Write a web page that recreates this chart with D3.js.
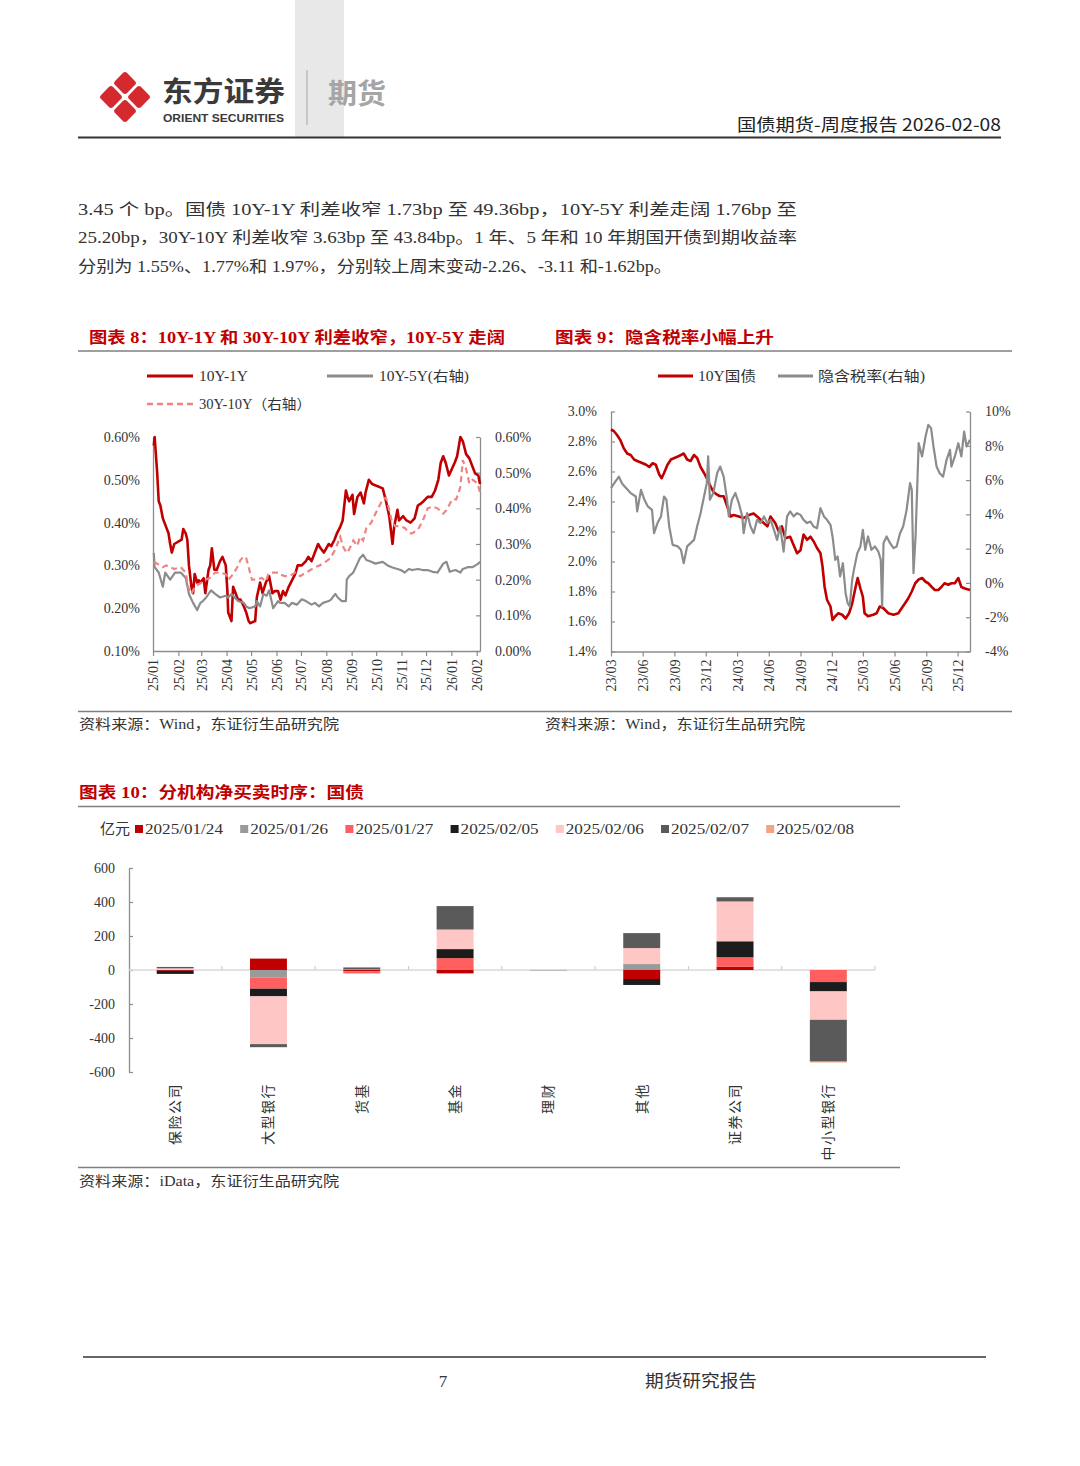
<!DOCTYPE html>
<html><head><meta charset="utf-8">
<script src="https://cdn.jsdelivr.net/npm/d3@7"></script>
<style>body{margin:0;background:#fff}svg{display:block}</style>
</head><body><svg id="page" width="1080" height="1466"></svg>
<script>
// ---------------- DATA ----------------
// Chart 8 (values in %)
const spread10y1y = [["2025-01-02",0.58],["2025-01-03",0.60],["2025-01-06",0.52],["2025-01-08",0.45],["2025-01-10",0.44],["2025-01-13",0.41],["2025-01-15",0.40],["2025-01-17",0.39],["2025-01-20",0.375],["2025-01-22",0.35],["2025-01-24",0.33],["2025-01-27",0.35],["2025-02-05",0.36],["2025-02-07",0.385],["2025-02-10",0.375],["2025-02-12",0.36],["2025-02-14",0.30],["2025-02-17",0.25],["2025-02-19",0.235],["2025-02-21",0.28],["2025-02-24",0.26],["2025-02-26",0.265],["2025-02-28",0.26],["2025-03-04",0.27],["2025-03-06",0.235],["2025-03-10",0.29],["2025-03-12",0.30],["2025-03-14",0.34],["2025-03-17",0.29],["2025-03-20",0.29],["2025-03-24",0.31],["2025-03-27",0.32],["2025-03-31",0.30],["2025-04-02",0.24],["2025-04-03",0.19],["2025-04-07",0.17],["2025-04-09",0.25],["2025-04-11",0.24],["2025-04-15",0.22],["2025-04-18",0.22],["2025-04-22",0.205],["2025-04-25",0.19],["2025-04-28",0.17],["2025-04-30",0.165],["2025-05-06",0.17],["2025-05-08",0.225],["2025-05-12",0.26],["2025-05-15",0.235],["2025-05-19",0.26],["2025-05-23",0.275],["2025-05-27",0.235],["2025-05-30",0.24],["2025-06-03",0.24],["2025-06-06",0.22],["2025-06-09",0.24],["2025-06-12",0.23],["2025-06-16",0.25],["2025-06-20",0.265],["2025-06-24",0.28],["2025-06-27",0.30],["2025-07-02",0.30],["2025-07-07",0.31],["2025-07-10",0.32],["2025-07-14",0.31],["2025-07-18",0.33],["2025-07-22",0.35],["2025-07-25",0.34],["2025-07-29",0.33],["2025-08-04",0.35],["2025-08-07",0.345],["2025-08-11",0.36],["2025-08-14",0.375],["2025-08-18",0.39],["2025-08-21",0.405],["2025-08-25",0.475],["2025-08-27",0.46],["2025-08-29",0.45],["2025-09-02",0.465],["2025-09-04",0.42],["2025-09-08",0.46],["2025-09-12",0.47],["2025-09-16",0.445],["2025-09-18",0.47],["2025-09-22",0.50],["2025-09-26",0.49],["2025-10-09",0.48],["2025-10-13",0.45],["2025-10-17",0.415],["2025-10-21",0.35],["2025-10-23",0.39],["2025-10-27",0.43],["2025-10-29",0.405],["2025-11-03",0.415],["2025-11-07",0.405],["2025-11-12",0.40],["2025-11-17",0.41],["2025-11-21",0.44],["2025-11-25",0.445],["2025-11-28",0.45],["2025-12-03",0.46],["2025-12-08",0.46],["2025-12-12",0.475],["2025-12-16",0.50],["2025-12-19",0.54],["2025-12-22",0.555],["2025-12-25",0.54],["2025-12-29",0.51],["2026-01-05",0.54],["2026-01-08",0.555],["2026-01-12",0.60],["2026-01-15",0.59],["2026-01-19",0.56],["2026-01-23",0.55],["2026-01-27",0.53],["2026-01-30",0.515],["2026-02-03",0.51],["2026-02-05",0.49]];
const spread10y5y = [["2025-01-02",0.275],["2025-01-03",0.235],["2025-01-08",0.22],["2025-01-13",0.18],["2025-01-16",0.22],["2025-01-22",0.20],["2025-01-28",0.22],["2025-02-04",0.22],["2025-02-10",0.205],["2025-02-14",0.16],["2025-02-19",0.135],["2025-02-24",0.115],["2025-02-28",0.135],["2025-03-03",0.14],["2025-03-07",0.15],["2025-03-13",0.17],["2025-03-18",0.16],["2025-03-24",0.15],["2025-03-31",0.155],["2025-04-03",0.15],["2025-04-07",0.16],["2025-04-11",0.15],["2025-04-15",0.14],["2025-04-22",0.135],["2025-04-25",0.125],["2025-04-29",0.12],["2025-05-06",0.125],["2025-05-08",0.14],["2025-05-12",0.125],["2025-05-16",0.16],["2025-05-20",0.155],["2025-05-23",0.17],["2025-05-28",0.12],["2025-06-03",0.14],["2025-06-05",0.135],["2025-06-11",0.135],["2025-06-16",0.125],["2025-06-20",0.135],["2025-06-26",0.13],["2025-07-02",0.145],["2025-07-07",0.14],["2025-07-14",0.13],["2025-07-18",0.135],["2025-07-23",0.125],["2025-07-28",0.135],["2025-08-04",0.14],["2025-08-07",0.145],["2025-08-12",0.16],["2025-08-15",0.15],["2025-08-20",0.14],["2025-08-25",0.14],["2025-08-26",0.20],["2025-08-29",0.21],["2025-09-03",0.22],["2025-09-08",0.245],["2025-09-11",0.26],["2025-09-15",0.27],["2025-09-19",0.255],["2025-09-25",0.25],["2025-09-30",0.245],["2025-10-09",0.25],["2025-10-15",0.24],["2025-10-20",0.235],["2025-10-27",0.23],["2025-10-31",0.227],["2025-11-05",0.22],["2025-11-10",0.23],["2025-11-14",0.227],["2025-11-21",0.23],["2025-11-27",0.227],["2025-12-03",0.227],["2025-12-09",0.222],["2025-12-15",0.22],["2025-12-22",0.245],["2025-12-26",0.25],["2025-12-30",0.222],["2026-01-06",0.227],["2026-01-12",0.22],["2026-01-15",0.23],["2026-01-21",0.235],["2026-01-27",0.235],["2026-02-03",0.245],["2026-02-05",0.25]];
const spread30y10y = [["2025-01-02",0.25],["2025-01-06",0.245],["2025-01-13",0.235],["2025-01-17",0.24],["2025-01-27",0.23],["2025-02-04",0.235],["2025-02-10",0.22],["2025-02-13",0.18],["2025-02-17",0.16],["2025-02-21",0.18],["2025-02-28",0.19],["2025-03-06",0.20],["2025-03-12",0.205],["2025-03-18",0.22],["2025-03-24",0.22],["2025-03-31",0.215],["2025-04-03",0.20],["2025-04-09",0.215],["2025-04-14",0.235],["2025-04-18",0.255],["2025-04-22",0.265],["2025-04-25",0.26],["2025-04-28",0.235],["2025-05-02",0.20],["2025-05-08",0.20],["2025-05-14",0.205],["2025-05-19",0.195],["2025-05-22",0.215],["2025-05-26",0.22],["2025-06-03",0.22],["2025-06-05",0.215],["2025-06-11",0.21],["2025-06-17",0.21],["2025-06-24",0.22],["2025-06-30",0.21],["2025-07-07",0.22],["2025-07-11",0.225],["2025-07-18",0.235],["2025-07-24",0.24],["2025-07-31",0.25],["2025-08-06",0.26],["2025-08-12",0.285],["2025-08-18",0.32],["2025-08-22",0.29],["2025-08-26",0.275],["2025-08-29",0.285],["2025-09-03",0.31],["2025-09-08",0.295],["2025-09-11",0.32],["2025-09-15",0.31],["2025-09-19",0.345],["2025-09-25",0.36],["2025-09-30",0.385],["2025-10-09",0.425],["2025-10-13",0.43],["2025-10-16",0.405],["2025-10-20",0.365],["2025-10-24",0.35],["2025-10-30",0.35],["2025-11-05",0.345],["2025-11-11",0.33],["2025-11-14",0.33],["2025-11-21",0.34],["2025-11-27",0.365],["2025-12-03",0.40],["2025-12-09",0.405],["2025-12-15",0.40],["2025-12-22",0.385],["2025-12-26",0.395],["2026-01-02",0.425],["2026-01-07",0.425],["2026-01-12",0.46],["2026-01-15",0.535],["2026-01-19",0.51],["2026-01-23",0.47],["2026-01-27",0.48],["2026-02-02",0.47],["2026-02-05",0.445]];
const c8LeftTicks = [0.1,0.2,0.3,0.4,0.5,0.6];
const c8RightTicks = [0,0.1,0.2,0.3,0.4,0.5,0.6];

// Chart 9
const cgb10y = [["2023-03-01",2.88],["2023-03-09",2.87],["2023-03-18",2.845],["2023-03-28",2.81],["2023-04-07",2.755],["2023-04-17",2.72],["2023-04-27",2.71],["2023-05-07",2.68],["2023-05-16",2.67],["2023-06-01",2.655],["2023-06-11",2.645],["2023-06-20",2.63],["2023-06-30",2.655],["2023-07-09",2.645],["2023-07-19",2.58],["2023-07-26",2.555],["2023-08-02",2.59],["2023-08-12",2.645],["2023-08-22",2.68],["2023-09-01",2.69],["2023-09-11",2.70],["2023-09-20",2.71],["2023-09-28",2.72],["2023-10-08",2.68],["2023-10-18",2.67],["2023-10-28",2.71],["2023-11-06",2.69],["2023-11-16",2.63],["2023-11-26",2.59],["2023-12-04",2.555],["2023-12-13",2.51],["2023-12-23",2.465],["2024-01-03",2.445],["2024-01-12",2.435],["2024-01-22",2.435],["2024-02-01",2.37],["2024-02-11",2.30],["2024-02-20",2.31],["2024-03-06",2.30],["2024-03-20",2.29],["2024-04-04",2.31],["2024-04-18",2.32],["2024-05-03",2.29],["2024-05-18",2.255],["2024-05-28",2.235],["2024-06-06",2.30],["2024-06-20",2.255],["2024-06-30",2.20],["2024-07-09",2.235],["2024-07-19",2.155],["2024-08-02",2.165],["2024-08-12",2.11],["2024-08-22",2.055],["2024-09-01",2.075],["2024-09-10",2.18],["2024-09-20",2.145],["2024-09-30",2.165],["2024-10-09",2.135],["2024-10-19",2.09],["2024-10-29",2.055],["2024-11-04",1.965],["2024-11-10",1.83],["2024-11-17",1.745],["2024-11-27",1.70],["2024-12-03",1.61],["2024-12-11",1.635],["2024-12-20",1.655],["2024-12-31",1.645],["2025-01-10",1.62],["2025-01-20",1.655],["2025-01-29",1.72],["2025-02-08",1.83],["2025-02-14",1.89],["2025-02-22",1.82],["2025-03-01",1.765],["2025-03-06",1.655],["2025-03-16",1.635],["2025-03-31",1.645],["2025-04-10",1.655],["2025-04-19",1.70],["2025-04-29",1.69],["2025-05-14",1.655],["2025-05-29",1.645],["2025-06-12",1.655],["2025-06-22",1.69],["2025-07-01",1.72],["2025-07-11",1.755],["2025-07-21",1.80],["2025-07-31",1.855],["2025-08-10",1.88],["2025-08-20",1.89],["2025-08-30",1.865],["2025-09-07",1.855],["2025-09-17",1.83],["2025-09-26",1.81],["2025-10-06",1.81],["2025-10-15",1.83],["2025-10-24",1.855],["2025-11-04",1.845],["2025-11-13",1.855],["2025-11-23",1.855],["2025-12-03",1.89],["2025-12-12",1.83],["2025-12-22",1.82],["2026-01-06",1.81]];
const impliedTax = [["2023-03-01",5.53],["2023-03-14",5.92],["2023-03-24",6.2],["2023-04-02",5.8],["2023-04-11",5.6],["2023-04-27",5.24],["2023-05-12",5.04],["2023-05-16",4.17],["2023-05-27",5.43],["2023-06-06",4.85],["2023-06-16",4.46],["2023-06-28",4.26],["2023-07-04",2.9],["2023-07-14",3.49],["2023-07-24",3.88],["2023-08-02",5.04],["2023-08-09",4.85],["2023-08-17",3.29],["2023-08-27",2.22],["2023-09-11",2.13],["2023-09-20",1.93],["2023-09-28",1.15],["2023-10-08",2.13],["2023-10-18",2.32],["2023-10-28",2.51],["2023-11-06",3.29],["2023-11-16",4.07],["2023-11-26",5.04],["2023-12-04",5.82],["2023-12-08",7.38],["2023-12-13",4.85],["2023-12-23",5.24],["2024-01-03",6.4],["2024-01-12",6.79],["2024-01-22",6.2],["2024-02-01",4.85],["2024-02-06",3.88],["2024-02-15",4.85],["2024-02-25",5.24],["2024-03-06",4.65],["2024-03-16",3.88],["2024-03-20",2.9],["2024-03-30",4.07],["2024-04-09",3.29],["2024-04-18",2.9],["2024-04-28",3.68],["2024-05-08",3.49],["2024-05-18",3.88],["2024-05-28",3.49],["2024-06-06",3.68],["2024-06-16",3.1],["2024-06-25",2.51],["2024-07-04",3.29],["2024-07-14",1.83],["2024-07-24",3.88],["2024-08-02",4.17],["2024-08-12",3.88],["2024-08-22",4.07],["2024-09-01",3.97],["2024-09-10",3.68],["2024-09-20",3.49],["2024-09-30",3.58],["2024-10-09",3.29],["2024-10-19",3.19],["2024-10-29",4.36],["2024-11-08",3.88],["2024-11-17",3.68],["2024-11-27",3.39],["2024-12-03",2.71],["2024-12-11",1.35],["2024-12-18",1.54],["2024-12-25",0.38],["2025-01-02",1.15],["2025-01-10",-0.6],["2025-01-16",-1.18],["2025-01-22",-1.37],["2025-01-29",0.18],["2025-02-03",0.76],["2025-02-13",1.74],["2025-02-22",2.13],["2025-03-01",3.1],["2025-03-08",1.93],["2025-03-16",2.71],["2025-03-26",1.93],["2025-04-05",2.13],["2025-04-15",1.83],["2025-04-22",1.35],["2025-04-26",-1.37],["2025-04-30",2.32],["2025-05-09",2.71],["2025-05-19",2.32],["2025-05-29",2.03],["2025-06-07",2.13],["2025-06-17",2.9],["2025-06-26",3.29],["2025-07-06",4.26],["2025-07-16",5.82],["2025-07-21",5.43],["2025-07-26",0.57],["2025-08-01",2.71],["2025-08-10",8.15],["2025-08-20",7.38],["2025-08-30",8.54],["2025-09-07",9.22],["2025-09-15",9.03],["2025-09-22",7.96],["2025-10-01",6.79],["2025-10-10",6.4],["2025-10-20",6.2],["2025-10-30",7.18],["2025-11-09",7.76],["2025-11-13",6.79],["2025-11-23",7.38],["2025-12-03",8.15],["2025-12-12",7.38],["2025-12-20",8.83],["2025-12-27",7.96],["2026-01-06",8.35]];
const c9XTicks = ["2023-03-01","2023-06-01","2023-09-01","2023-12-01","2024-03-01","2024-06-01","2024-09-01","2024-12-01","2025-03-01","2025-06-01","2025-09-01","2025-12-01"];
const c9LeftTicks = [1.4,1.6,1.8,2.0,2.2,2.4,2.6,2.8,3.0];
const c9RightTicks = [-4,-2,0,2,4,6,8,10];

// Chart 10 (亿元)
const institutions = ["保险公司","大型银行","货基","基金","理财","其他","证券公司","中小型银行"];
const seriesNames = ["2025/01/24","2025/01/26","2025/01/27","2025/02/05","2025/02/06","2025/02/07","2025/02/08"];
const s20250124 = [-5, 67, -8, -20, 0, -53, 20, 0];
const s20250126 = [0, -45, 5, 0, -3, 35, 0, 0];
const s20250127 = [0, -65, -12, 70, 0, 0, 55, -71];
const s20250205 = [-18, -45, 0, 53, 0, -35, 94, -55];
const s20250206 = [10, -281, 0, 115, 3, 94, 234, -167];
const s20250207 = [8, -18, 10, 138, 0, 88, 25, -246];
const s20250208 = [0, 0, 0, 0, 0, 0, 0, -5];
const c10Ticks = [-600,-400,-200,0,200,400,600];

// ---------------- DRAW ----------------
const SERIF = "'Liberation Serif','Noto Sans CJK SC',serif";
const SANS = "'Noto Sans CJK SC','Noto Sans',sans-serif";
const RED = "#C00000";
const svg = d3.select("#page");
svg.append("rect").attr("width",1080).attr("height",1466).attr("fill","#fff");

function text(x,y,s,o={}){
  const t = svg.append("text").attr("x",x).attr("y",y).text(s)
    .attr("font-family",o.family||SERIF).attr("font-size",o.size||15)
    .attr("fill",o.fill||"#333").attr("font-weight",o.weight||"normal")
    .attr("text-anchor",o.anchor||"start");
  if(o.len){ t.attr("textLength",o.len).attr("lengthAdjust","spacingAndGlyphs"); }
  return t;
}
function hline(x1,x2,y,c,w){ svg.append("line").attr("x1",x1).attr("x2",x2).attr("y1",y).attr("y2",y).attr("stroke",c).attr("stroke-width",w); }

// Header
svg.append("rect").attr("x",295).attr("y",0).attr("width",49).attr("height",137).attr("fill","#e8e8e8");
const logo = svg.append("g").attr("transform","translate(125,97)");
[[0,-14],[0,14],[-14,0],[14,0]].forEach(([dx,dy])=>{
  logo.append("rect").attr("x",-8.5).attr("y",-8.5).attr("width",17).attr("height",17).attr("rx",3)
    .attr("fill","#D42A2F").attr("transform",`translate(${dx},${dy}) rotate(45)`);
});
text(162,102,"东方证券",{family:SANS,size:28,weight:"bold",fill:"#3a3a3a",len:123});
text(163,122,"ORIENT SECURITIES",{family:"'Liberation Sans',Arial,sans-serif",size:11.5,weight:"bold",fill:"#3a3a3a",len:121});
svg.append("line").attr("x1",307).attr("x2",307).attr("y1",70).attr("y2",125).attr("stroke","#bdbdbd").attr("stroke-width",1.5);
text(328,104,"期货",{family:SANS,size:28,weight:"bold",fill:"#a5a5a5",len:58});
text(1001,131,"国债期货-周度报告 2026-02-08",{family:SANS,size:17,fill:"#222",anchor:"end",len:264});
hline(78,1001,137.5,"#333",2);

// Body text
text(78,215,"3.45 个 bp。国债 10Y-1Y 利差收窄 1.73bp 至 49.36bp，10Y-5Y 利差走阔 1.76bp 至",{size:16,len:719});
text(78,243,"25.20bp，30Y-10Y 利差收窄 3.63bp 至 43.84bp。1 年、5 年和 10 年期国开债到期收益率",{size:16,len:719});
text(78,272,"分别为 1.55%、1.77%和 1.97%，分别较上周末变动-2.26、-3.11 和-1.62bp。",{size:16,len:594});

// Chart titles
text(89,343,"图表 8：10Y-1Y 和 30Y-10Y 利差收窄，10Y-5Y 走阔",{size:16,weight:"bold",fill:RED,len:416});
text(555,343,"图表 9：隐含税率小幅上升",{size:16,weight:"bold",fill:RED,len:219});
hline(78,1012,351,"#7f7f7f",1.5);
hline(78,1012,711.5,"#7f7f7f",1.5);
text(79,729,"资料来源：Wind，东证衍生品研究院",{size:14,fill:"#333",len:260});
text(545,729,"资料来源：Wind，东证衍生品研究院",{size:14,fill:"#333",len:260});

const parse = d3.timeParse("%Y-%m-%d");
const AX = "#8c8c8c";
function styleAxis(g){
  g.selectAll(".domain").attr("stroke",AX).attr("stroke-width",1.3);
  g.selectAll(".tick line").attr("stroke",AX).attr("stroke-width",1.2);
  g.selectAll("text").attr("font-family",SERIF).attr("font-size",14).attr("fill","#333");
}

// ---------- Chart 8 ----------
const x8 = d3.scaleTime().domain([new Date(2025,0,1), new Date(2026,1,5)]).range([153,480]);
const yL8 = d3.scaleLinear().domain([0.1,0.6]).range([651,437]);
const yR8 = d3.scaleLinear().domain([0,0.6]).range([651,437]);
const fmt2 = d=>d.toFixed(2)+"%";
svg.append("g").attr("transform","translate(153,0)")
  .call(d3.axisLeft(yL8).tickValues(c8LeftTicks).tickFormat(fmt2).tickSize(0).tickPadding(13)).call(styleAxis);
svg.append("g").attr("transform","translate(480,0)")
  .call(d3.axisRight(yR8).tickValues(c8RightTicks).tickFormat(fmt2).tickSizeInner(-4).tickSizeOuter(0).tickPadding(15)).call(styleAxis);
const xa8 = svg.append("g").attr("transform","translate(0,651)")
  .call(d3.axisBottom(x8).ticks(d3.timeMonth.every(1)).tickFormat(d3.timeFormat("%y/%m")).tickSizeInner(5).tickSizeOuter(0)).call(styleAxis);
xa8.selectAll("text").attr("transform","rotate(-90)").attr("x",-8).attr("y",0).attr("dy","0.35em").attr("text-anchor","end");

const line8L = d3.line().x(d=>x8(parse(d[0]))).y(d=>yL8(d[1]));
const line8R = d3.line().x(d=>x8(parse(d[0]))).y(d=>yR8(d[1]));
svg.append("path").attr("d",line8L(spread10y1y)).attr("fill","none").attr("stroke",RED).attr("stroke-width",2.6).attr("stroke-linejoin","round");
svg.append("path").attr("d",line8R(spread10y5y)).attr("fill","none").attr("stroke","#8c8c8c").attr("stroke-width",2.2).attr("stroke-linejoin","round");
svg.append("path").attr("d",line8R(spread30y10y)).attr("fill","none").attr("stroke","#EE8585").attr("stroke-width",2.2).attr("stroke-dasharray","6,4");

// legend 8
hline(147,193,376,RED,3);
text(199,381,"10Y-1Y",{size:14,len:49});
hline(327,373,376,"#8c8c8c",3);
text(379,381,"10Y-5Y(右轴)",{size:14,len:90});
svg.append("line").attr("x1",147).attr("x2",193).attr("y1",404).attr("y2",404).attr("stroke","#EE8585").attr("stroke-width",2.5).attr("stroke-dasharray","6,4");
text(199,409,"30Y-10Y（右轴）",{size:14,len:112});

// ---------- Chart 9 ----------
const x9 = d3.scaleTime().domain([new Date(2023,2,1), new Date(2026,0,6)]).range([611,970]);
const yL9 = d3.scaleLinear().domain([1.4,3.0]).range([651.5,411.5]);
const yR9 = d3.scaleLinear().domain([-4,10]).range([651.5,411.5]);
svg.append("g").attr("transform","translate(611,0)")
  .call(d3.axisLeft(yL9).tickValues(c9LeftTicks).tickFormat(d=>d.toFixed(1)+"%").tickSizeInner(-4).tickSizeOuter(0).tickPadding(14)).call(styleAxis);
svg.append("g").attr("transform","translate(970,0)")
  .call(d3.axisRight(yR9).tickValues(c9RightTicks).tickFormat(d=>d+"%").tickSizeInner(-4).tickSizeOuter(0).tickPadding(15)).call(styleAxis);
const xa9 = svg.append("g").attr("transform","translate(0,651.5)")
  .call(d3.axisBottom(x9).tickValues(c9XTicks.map(parse)).tickFormat(d3.timeFormat("%y/%m")).tickSizeInner(5).tickSizeOuter(0)).call(styleAxis);
xa9.selectAll("text").attr("transform","rotate(-90)").attr("x",-8).attr("y",0).attr("dy","0.35em").attr("text-anchor","end");
const line9L = d3.line().x(d=>x9(parse(d[0]))).y(d=>yL9(d[1]));
const line9R = d3.line().x(d=>x9(parse(d[0]))).y(d=>yR9(d[1]));
svg.append("path").attr("d",line9L(cgb10y)).attr("fill","none").attr("stroke",RED).attr("stroke-width",2.6).attr("stroke-linejoin","round");
svg.append("path").attr("d",line9R(impliedTax)).attr("fill","none").attr("stroke","#8c8c8c").attr("stroke-width",2.2).attr("stroke-linejoin","round");
hline(658,693,376,RED,3);
text(698,381,"10Y国债",{size:14,len:58});
hline(778,813,376,"#8c8c8c",3);
text(818,381,"隐含税率(右轴)",{size:14,len:107});

// ---------- Chart 10 ----------
text(79,798,"图表 10：分机构净买卖时序：国债",{size:16,weight:"bold",fill:RED,len:285});
hline(78,900,806.5,"#7f7f7f",1.5);
hline(78,900,1167.5,"#7f7f7f",1.5);
text(79,1186,"资料来源：iData，东证衍生品研究院",{size:14,fill:"#333",len:260});

const seriesArrays = [s20250124,s20250126,s20250127,s20250205,s20250206,s20250207,s20250208];
const colors = ["#C00000","#9a9a9a","#FF5F5F","#1c1c1c","#FFC6C6","#5a5a5a","#F4A47E"];
const rows = institutions.map((c,i)=>{ const r={cat:c}; seriesNames.forEach((k,j)=>r[k]=seriesArrays[j][i]); return r; });
const stacked = d3.stack().keys(seriesNames).offset(d3.stackOffsetDiverging)(rows);
const x10 = d3.scaleBand().domain(institutions).range([128.5,875]).paddingInner(0.604).paddingOuter(0.302);
const y10 = d3.scaleLinear().domain([-600,600]).range([1072,868]);

text(100,834,"亿元",{size:15,fill:"#333"});
seriesNames.forEach((k,j)=>{
  const lx = 135 + j*105.2;
  svg.append("rect").attr("x",lx).attr("y",825).attr("width",8).attr("height",8).attr("fill",colors[j]);
  text(lx+10,834,k,{size:15,fill:"#333",len:78});
});

const ya10 = svg.append("g").attr("transform","translate(129,0)")
  .call(d3.axisLeft(y10).tickValues(c10Ticks).tickFormat(d=>String(d)).tickSizeInner(-4).tickSizeOuter(0).tickPadding(14)).call(styleAxis);
ya10.selectAll("text").attr("font-size",14);
// zero line + category ticks
hline(129,875,y10(0),"#d9d9d9",1.5);
const gap = x10.step()-x10.bandwidth();
institutions.slice(1).concat([null]).forEach(c=>{
  const bx = c ? x10(c)-gap/2 : 875;
  svg.append("line").attr("x1",bx).attr("x2",bx).attr("y1",y10(0)-4).attr("y2",y10(0)).attr("stroke","#c8c8c8");
});
stacked.forEach((s,j)=>{
  svg.append("g").selectAll("rect").data(s).join("rect")
    .attr("x",d=>x10(d.data.cat)).attr("width",x10.bandwidth())
    .attr("y",d=>y10(Math.max(d[0],d[1]))).attr("height",d=>Math.abs(y10(d[0])-y10(d[1])))
    .attr("fill",colors[j]);
});
institutions.forEach(c=>{
  svg.append("text").text(c).attr("transform",`translate(${x10(c)+x10.bandwidth()/2},1083) rotate(-90)`)
    .attr("dy","0.35em").attr("text-anchor","end").attr("font-family",SERIF).attr("font-size",14)
    .attr("letter-spacing",1.5).attr("fill","#333");
});

// Footer
hline(83,986,1357,"#333",1.5);
text(443,1387,"7",{size:17,anchor:"middle",fill:"#333"});
text(645,1387,"期货研究报告",{size:17,fill:"#333",len:112});
</script></body></html>
